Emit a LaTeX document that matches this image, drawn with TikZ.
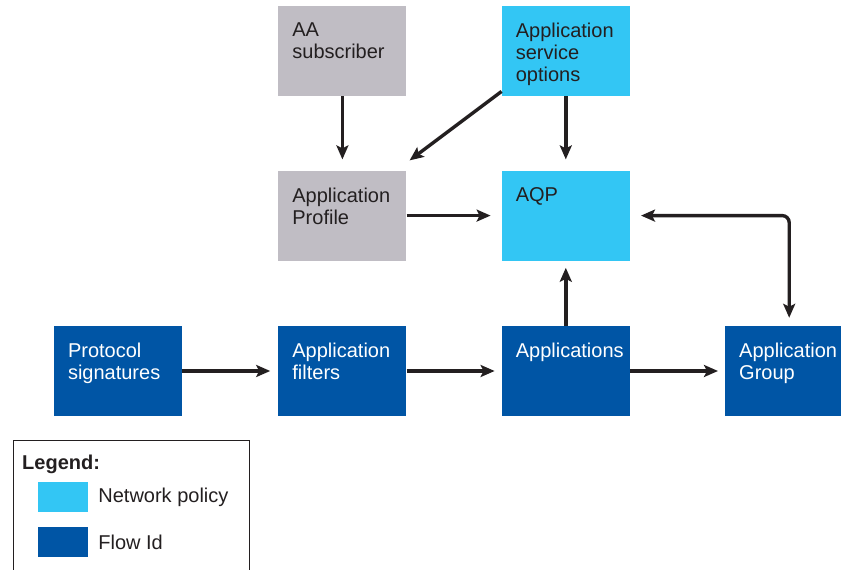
\documentclass[tikz,border=0pt]{standalone}
\usepackage{fontspec}
\setmainfont{Liberation Sans}
\usepackage{tikz}
\usetikzlibrary{arrows.meta, positioning}
\usepackage{xcolor}
\definecolor{aagrey}{RGB}{192, 189, 196}
\definecolor{netblue}{RGB}{51, 198, 244}
\definecolor{flowblue}{RGB}{0, 85, 165}
\definecolor{inkgrey}{RGB}{35, 31, 32}
\newcommand{\boxtxt}[1]{\parbox[t][56pt][t]{128pt}{\raggedright\leftskip=14pt #1}}

\begin{document}
\begin{tikzpicture}[x=1pt, y=1pt,
        box/.style={minimum width=128pt, minimum height=90pt, inner xsep=0pt,
                    inner ysep=17pt, text=inkgrey, font=\fontsize{20}{22}\selectfont},
        policy/.style={box, fill=netblue},
        subbox/.style={box, fill=aagrey},
        flow/.style={box, fill=flowblue, text=white},
        swatch/.style={minimum width=50pt, minimum height=30pt, inner sep=0pt},
        legtext/.style={text=inkgrey, font=\fontsize{20}{22}\selectfont, inner sep=0pt},
        arrow/.style={-{Stealth[length=14pt, width=12pt, inset=3pt]}, line width=3.4pt,
                      draw=inkgrey}
      ]
        \clip (0,0) rectangle (841,570);

        % flow row
        \node[flow] (proto) at (118,199) {\boxtxt{Protocol\\signatures}};
        \node[flow, right=96pt of proto] (filt) {\boxtxt{Application\\filters}};
        \node[flow, right=95pt of filt]  (apps) {\boxtxt{Applications}};
        \node[flow, right=95pt of apps]  (grp)  {\boxtxt{Application\\Group}};

        % policy part
        \node[policy, above=65pt of apps]  (aqp)  {\boxtxt{AQP}};
        \node[policy, above=74pt of aqp]   (aso)  {\boxtxt{Application\\service\\options}};
        \node[subbox, above=65pt of filt]  (prof) {\boxtxt{Application\\Profile}};
        \node[subbox, above=74pt of prof]  (aa)   {\boxtxt{AA\\subscriber}};

        \draw[arrow, shorten >=11pt] (aa) -- (prof);
        \draw[arrow, shorten >=11pt] (aso) -- (aqp);
        \draw[arrow] ([yshift=5pt]aso.south west) -- ([shift={(3pt,10pt)}]prof.north east);
        \draw[arrow, shorten >=11pt] (prof) -- (aqp);
        \draw[arrow, shorten >=7pt] (apps) -- (aqp);
        \draw[arrow, {Stealth[length=14pt, width=12pt, inset=3pt]}-{Stealth[length=14pt, width=12pt, inset=3pt]},
              shorten <=11pt, shorten >=8pt, rounded corners=7pt] (aqp.east) -| (grp.north);
        \draw[arrow, shorten >=8pt] (proto) -- (filt);
        \draw[arrow, shorten >=7pt] (filt) -- (apps);
        \draw[arrow, shorten >=7pt] (apps) -- (grp);

        % legend
        \node[draw=inkgrey, line width=1.2pt, anchor=north west, minimum width=236pt,
              minimum height=150pt] (legend) at (13,130) {};
        \node[legtext, anchor=base west, font=\fontsize{20}{22}\selectfont\bfseries]
          (legtitle) at (22,100) {Legend:};
        \node[swatch, fill=netblue]  (swnet)  at (63,73) {};
        \node[swatch, fill=flowblue] (swflow) at (63,28) {};
        \node[legtext, right=10pt of swnet]  (lnet)  {Network policy};
        \node[legtext, right=10pt of swflow] (lflow) {Flow Id};
      \end{tikzpicture}
\end{document}
